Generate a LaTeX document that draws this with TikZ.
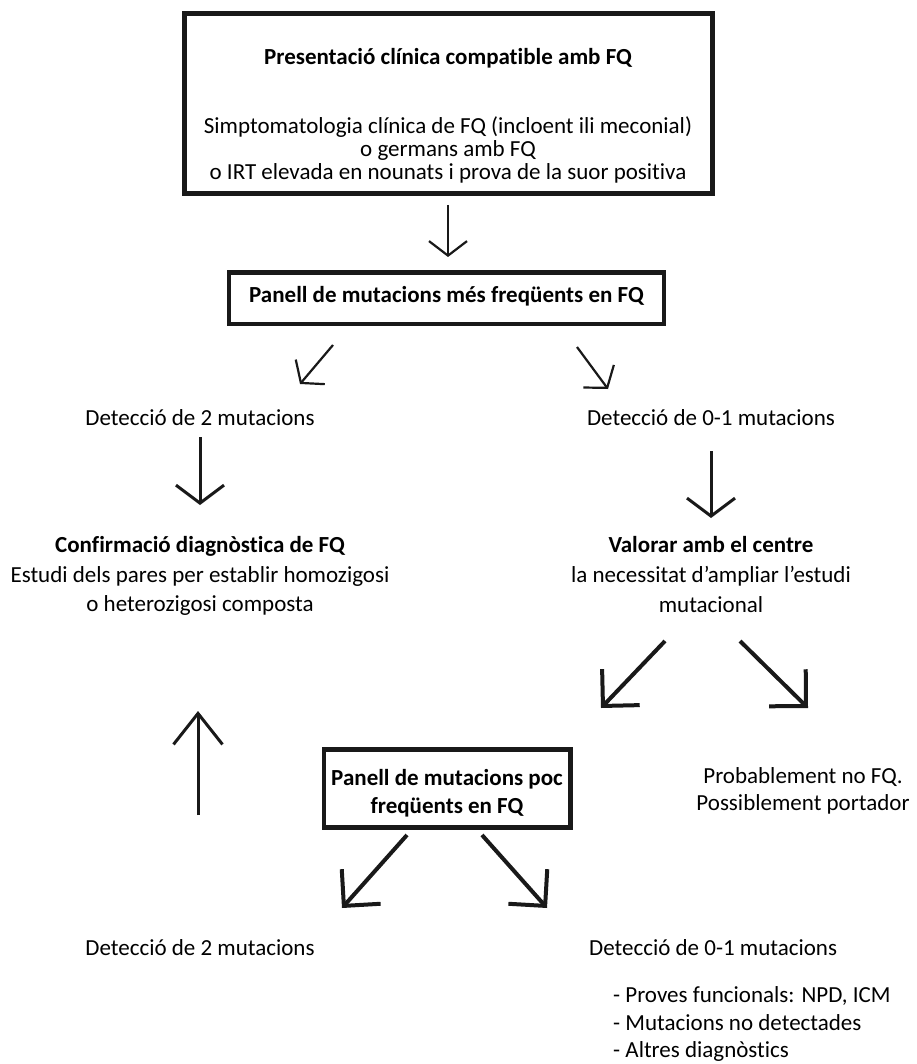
\documentclass[tikz,border=0pt]{standalone}
\usepackage{fontspec}
\setmainfont{Carlito}[Ligatures=NoCommon]
\usetikzlibrary{arrows.meta}
\begin{document}
\begin{tikzpicture}[x=1pt,y=-1pt,
  txt/.style={font=\fontsize{23}{29}\selectfont, inner sep=0pt, anchor=base},
  btxt/.style={txt, font=\fontsize{23}{29}\selectfont\bfseries},
  ltxt/.style={txt, anchor=base west},
  frame/.style={draw=black!90, inner sep=0pt, line join=miter},
  smallarrow/.style={draw=black!90, line width=2.2pt, -{Straight Barb[length=14.5pt,width=38pt,line join=miter]}},
  midarrow/.style={draw=black!90, line width=3pt, -{Straight Barb[length=18pt,width=48pt,line join=miter]}},
  uparrow/.style={draw=black!90, line width=3pt, -{Straight Barb[length=31pt,width=49pt,line join=miter]}},
  bigarrow/.style={draw=black!90, line width=4pt, -{Straight Barb[length=26pt,width=52pt,line join=miter]}}
]
\useasboundingbox[fill=white] (0,0) rectangle (916,1064);

% frames
\node[frame, line width=5pt, minimum width=528pt, minimum height=180pt] (topbox) at (448,104) {};
\node[frame, line width=4.5pt, minimum width=435pt, minimum height=51.5pt] (panel1) at (446.5,298.25) {};
\node[frame, line width=4.5pt, minimum width=246.5pt, minimum height=78pt] (panel2) at (447.25,788.5) {};

% text of the first frame
\node[btxt] (title) at (448,65) {Presentació clínica compatible amb FQ};
\node[txt] (sympA) at (448,134) {Simptomatologia clínica de FQ (incloent ili meconial)};
\node[txt] (sympB) at (448,157) {o germans amb FQ};
\node[txt] (sympC) at (448,180) {o IRT elevada en nounats i prova de la suor positiva};

\node[btxt] (p1txt) at (446.5,302) {Panell de mutacions més freqüents en FQ};

% first results
\node[txt] (det2a) at (200,425) {Detecció de 2 mutacions};
\node[txt] (det01a) at (711,425) {Detecció de 0-1 mutacions};

% diagnosis confirmed
\node[btxt] (confA) at (200,552) {Confirmació diagnòstica de FQ};
\node[txt] (confB) at (200,582) {Estudi dels pares per establir homozigosi};
\node[txt] (confC) at (200,611) {o heterozigosi composta};

% assess with the centre
\node[btxt] (valA) at (711,552) {Valorar amb el centre};
\node[txt] (valB) at (711,582) {la necessitat d’ampliar l’estudi};
\node[txt] (valC) at (711,612) {mutacional};

% second panel text
\node[btxt] (p2a) at (447,785) {Panell de mutacions poc};
\node[btxt] (p2b) at (447,813) {freqüents en FQ};

\node[txt] (probA) at (803,783) {Probablement no FQ.};
\node[txt] (probB) at (803,810) {Possiblement portador};

% final results
\node[txt] (det2b) at (200,955) {Detecció de 2 mutacions};
\node[ltxt] (det01b) at (589,955) {Detecció de 0-1 mutacions};
\node[ltxt] (itemA) at (613,1002) {- Proves funcionals: NPD, ICM};
\node[ltxt] (itemB) at (613,1030) {- Mutacions no detectades};
\node[ltxt] (itemC) at (613,1057) {- Altres diagnòstics};

% arrow end points
\coordinate (a1s) at (448,205);  \coordinate (a1e) at (448,257);
\coordinate (a2s) at (333,345);  \coordinate (a2e) at (300,384);
\coordinate (a3s) at (577,347);  \coordinate (a3e) at (608,389);
\coordinate (a4s) at (200,437);  \coordinate (a4e) at (200,505);
\coordinate (a5s) at (711,451);  \coordinate (a5e) at (711,518);
\coordinate (a6s) at (665,641);  \coordinate (a6e) at (601,708);
\coordinate (a7s) at (740,641);  \coordinate (a7e) at (808,708);
\coordinate (a8s) at (198,815);  \coordinate (a8e) at (198,711);
\coordinate (a9s) at (407,835);  \coordinate (a9e) at (342,908);
\coordinate (a10s) at (482,835); \coordinate (a10e) at (547,908);

\draw[smallarrow] (a1s) -- (a1e);
\draw[smallarrow] (a2s) -- (a2e);
\draw[smallarrow] (a3s) -- (a3e);
\draw[midarrow] (a4s) -- (a4e);
\draw[midarrow] (a5s) -- (a5e);
\draw[bigarrow] (a6s) -- (a6e);
\draw[bigarrow] (a7s) -- (a7e);
\draw[uparrow] (a8s) -- (a8e);
\draw[bigarrow] (a9s) -- (a9e);
\draw[bigarrow] (a10s) -- (a10e);
\end{tikzpicture}
\end{document}
